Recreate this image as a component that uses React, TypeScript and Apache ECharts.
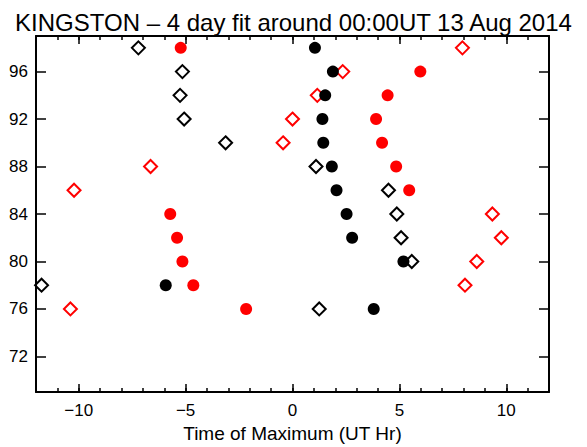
import React, { useEffect, useRef } from "react";
import * as echarts from "echarts";

const TITLE = "KINGSTON – 4 day fit around 00:00UT 13 Aug 2014";
const X_NAME = "Time of Maximum (UT Hr)";
const dayHours = [98, 96, 94, 92, 90, 88, 86, 84, 82, 80, 78, 76];
const blackFilled = [1.05, 1.89, 1.53, 1.4, 1.44, 1.84, 2.06, 2.53, 2.79, 5.19, -5.93, 3.8];
const redFilled = [-5.23, 5.98, 4.45, 3.91, 4.19, 4.85, 5.46, -5.72, -5.4, -5.15, -4.64, -2.17];
const blackOpen = [-7.21, -5.15, -5.26, -5.07, -3.13, 1.1, 4.49, 4.88, 5.08, 5.58, -11.74, 1.25];
const redOpen = [7.95, 2.35, 1.16, 0.0, -0.44, -6.64, -10.22, 9.35, 9.77, 8.62, 8.07, -10.39];
const xMajorTicks = [-10, -5, 0, 5, 10];
const yTicks = [72, 76, 80, 84, 88, 92, 96];
const X_MIN = -12;
const X_MAX = 12;
const Y_MIN = 69;
const Y_MAX = 99;

const FONT = "'Liberation Sans', Arial, sans-serif";

function zip(xs: number[]) {
  return xs.map((x, i) => [x, dayHours[i]]);
}

export default function App() {
  const ref = useRef<HTMLDivElement>(null);
  useEffect(() => {
    if (!ref.current) return;
    const chart = echarts.init(ref.current, null, { renderer: "svg" });
    const black = "#000000";
    const red = "#ff0000";
    const lineStyle = { color: black, width: 2 };
    const minorX = (position: string) => ({
      type: "value",
      position,
      min: X_MIN,
      max: X_MAX,
      interval: 1,
      axisLine: { show: true, onZero: false, lineStyle },
      axisTick: { show: true, inside: true, length: 4, lineStyle: { color: black, width: 1.5 } },
      axisLabel: { show: false },
      splitLine: { show: false },
    });
    const majorX = (position: string, labels: boolean) => ({
      type: "value",
      position,
      min: X_MIN,
      max: X_MAX,
      interval: 1,
      axisLine: { show: false, onZero: false },
      axisTick: {
        show: true,
        inside: true,
        length: 8,
        customValues: xMajorTicks,
        lineStyle: { color: black, width: 1.5 },
      },
      axisLabel: {
        show: labels,
        customValues: xMajorTicks,
        margin: 10,
        color: black,
        fontSize: 17,
        fontFamily: FONT,
        formatter: (v: number) => (v < 0 ? "\u2212" + Math.abs(v) : String(v)),
      },
      splitLine: { show: false },
      ...(labels
        ? {
            name: X_NAME,
            nameLocation: "middle",
            nameGap: 28,
            nameTextStyle: { color: black, fontSize: 19, fontFamily: FONT },
          }
        : {}),
    });
    const yAx = (position: string, labels: boolean) => ({
      type: "value",
      position,
      min: Y_MIN,
      max: Y_MAX,
      axisLine: { show: true, onZero: false, lineStyle },
      axisTick: {
        show: true,
        inside: true,
        length: 10,
        customValues: yTicks,
        lineStyle: { color: black, width: 1.5 },
      },
      axisLabel: {
        show: labels,
        customValues: yTicks,
        margin: 8,
        color: black,
        fontSize: 17,
        fontFamily: FONT,
      },
      splitLine: { show: false },
    });
    const diamond = (data: number[], color: string) => ({
      type: "scatter",
      xAxisIndex: 0,
      yAxisIndex: 0,
      symbol: "diamond",
      symbolSize: 13,
      data: zip(data),
      itemStyle: { color: "rgba(0,0,0,0)", borderColor: color, borderWidth: 2, opacity: 1 },
    });
    const circle = (data: number[], color: string) => ({
      type: "scatter",
      xAxisIndex: 0,
      yAxisIndex: 0,
      symbol: "circle",
      symbolSize: 12,
      data: zip(data),
      itemStyle: { color, opacity: 1 },
    });
    chart.setOption({
      animation: false,
      backgroundColor: "#ffffff",
      title: {
        text: TITLE,
        left: "center",
        top: 5,
        textStyle: { color: black, fontSize: 24, fontWeight: "normal", fontFamily: FONT },
      },
      grid: { left: 36, right: 38, top: 36, bottom: 55, containLabel: false, outerBoundsMode: "none" },
      xAxis: [minorX("bottom"), majorX("bottom", true), minorX("top"), majorX("top", false)],
      yAxis: [yAx("left", true), yAx("right", false)],
      series: [
        diamond(blackOpen, black),
        diamond(redOpen, red),
        circle(blackFilled, black),
        circle(redFilled, red),
      ],
    });
    return () => chart.dispose();
  }, []);
  return (
    <div
      ref={ref}
      style={{ position: "absolute", left: 0, top: 0, width: 587, height: 447, background: "#fff" }}
    />
  );
}
